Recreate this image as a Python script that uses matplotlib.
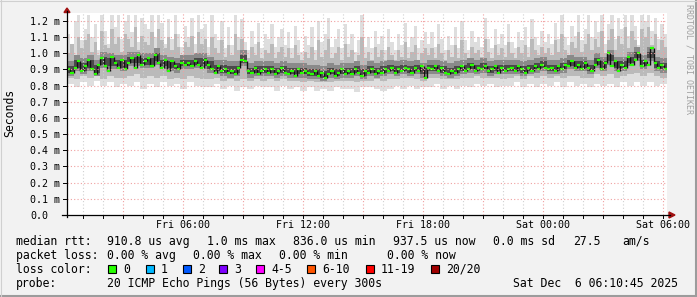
import numpy as np
import matplotlib.pyplot as plt
from matplotlib.patches import Rectangle, Polygon

# median rtt in ms, one value per 10 minutes, starting Fri 00:12
median = np.array([
    0.90, 0.88, 0.91, 0.95, 0.89, 0.92, 0.96, 0.90, 0.87, 0.93, 0.97, 0.92,
    0.89, 0.98, 0.94, 0.91, 0.96, 0.90, 0.94, 0.97, 0.91, 0.99, 0.93, 0.95,
    0.97, 0.92, 0.99, 0.94, 0.91, 0.96, 0.89, 0.95, 0.92, 0.90, 0.94, 0.93,
    0.94, 0.92, 0.95, 0.93, 0.91, 0.96, 0.93, 0.90, 0.88, 0.92, 0.89, 0.90,
    0.88, 0.89, 0.87, 0.91, 0.96, 0.95, 0.89, 0.88, 0.91, 0.87, 0.89, 0.90,
    0.88, 0.90, 0.87, 0.89, 0.91, 0.88, 0.87, 0.89, 0.86, 0.90, 0.88, 0.89,
    0.88, 0.87, 0.89, 0.86, 0.88, 0.85, 0.87, 0.89, 0.86, 0.88, 0.90, 0.87,
    0.89, 0.87, 0.90, 0.88, 0.86, 0.89, 0.88, 0.90, 0.87, 0.89, 0.88, 0.90,
    0.89, 0.91, 0.88, 0.90, 0.89, 0.91, 0.90, 0.88, 0.91, 0.89, 0.92, 0.85,
    0.91, 0.90, 0.92, 0.89, 0.91, 0.88, 0.87, 0.89, 0.88, 0.90, 0.92, 0.89,
    0.90, 0.93, 0.89, 0.91, 0.90, 0.92, 0.89, 0.90, 0.92, 0.88, 0.91, 0.89,
    0.90, 0.91, 0.89, 0.92, 0.90, 0.88, 0.91, 0.89, 0.92, 0.90, 0.93, 0.91,
    0.90, 0.91, 0.89, 0.92, 0.90, 0.93, 0.92, 0.95, 0.91, 0.93, 0.90, 0.94,
    0.91, 0.89, 0.93, 0.96, 0.90, 0.94, 1.00, 0.92, 0.95, 0.89, 0.93, 0.91,
    0.98, 0.93, 0.96, 1.00, 0.92, 0.95, 0.93, 1.03, 0.94, 0.91, 0.93, 0.90,
])

# slowest ping per 10 minutes (ms)
smoke_top = np.array([
    1.12, 1.05, 1.20, 1.24, 1.08, 1.15, 1.24, 1.10, 1.18, 1.02, 1.24, 1.14,
    1.06, 1.24, 1.16, 1.24, 1.09, 1.20, 1.24, 1.13, 1.24, 1.07, 1.22, 1.18,
    1.15, 1.24, 1.10, 1.24, 1.19, 1.06, 1.21, 1.09, 1.24, 1.12, 1.04, 1.17,
    1.10, 1.22, 1.06, 1.24, 1.15, 1.18, 1.04, 1.24, 1.12, 1.08, 1.20, 1.03,
    1.16, 1.05, 1.24, 1.10, 1.21, 1.07, 1.02, 1.14, 1.06, 1.19, 1.03, 1.12,
    1.09, 1.18, 1.04, 1.10, 1.15, 1.05, 1.13, 1.03, 1.17, 1.08, 1.01, 1.11,
    1.05, 1.16, 1.02, 1.20, 1.07, 1.12, 1.22, 1.04, 1.09, 1.15, 1.03, 1.18,
    1.06, 1.12, 1.01, 1.08, 1.24, 1.04, 1.10, 1.03, 1.14, 1.06, 1.11, 1.02,
    1.15, 1.07, 1.02, 1.12, 1.05, 1.19, 1.04, 1.10, 1.17, 1.03, 1.08, 1.13,
    1.06, 1.13, 1.04, 1.18, 1.09, 1.02, 1.11, 1.05, 1.16, 1.03, 1.20, 1.08,
    1.02, 1.14, 1.07, 1.10, 1.04, 1.22, 1.09, 1.03, 1.15, 1.06, 1.12, 1.05,
    1.18, 1.07, 1.03, 1.13, 1.08, 1.16, 1.04, 1.21, 1.10, 1.05, 1.14, 1.07,
    1.12, 1.06, 1.19, 1.09, 1.24, 1.10, 1.05, 1.17, 1.11, 1.24, 1.08, 1.15,
    1.24, 1.10, 1.20, 1.13, 1.24, 1.06, 1.18, 1.24, 1.09, 1.22, 1.15, 1.24,
    1.11, 1.24, 1.17, 1.05, 1.24, 1.20, 1.24, 1.14, 1.22, 1.09, 1.18, 1.12,
])

# 90th percentile ping per 10 minutes (ms)
smoke_hi = np.array([
    1.00, 1.06, 0.98, 1.10, 1.03, 1.08, 1.12, 1.01, 1.07, 0.99, 1.14, 1.05,
    1.03, 1.15, 1.06, 1.10, 1.01, 1.12, 1.09, 1.04, 1.16, 1.02, 1.11, 1.07,
    1.05, 1.13, 1.00, 1.15, 1.08, 1.03, 1.10, 1.02, 1.12, 1.04, 0.99, 1.07,
    1.04, 1.11, 0.99, 1.13, 1.06, 1.09, 0.99, 1.10, 1.03, 1.00, 1.08, 0.98,
    1.05, 0.99, 1.12, 1.02, 1.09, 1.00, 0.97, 1.04, 0.99, 1.07, 0.97, 1.02,
    1.00, 1.06, 0.97, 1.01, 1.04, 0.98, 1.03, 0.97, 1.05, 0.99, 0.96, 1.01,
    0.97, 1.04, 0.96, 1.08, 0.98, 1.02, 1.09, 0.97, 1.00, 1.04, 0.96, 1.06,
    0.98, 1.02, 0.95, 0.99, 1.10, 0.97, 1.01, 0.96, 1.04, 0.98, 1.02, 0.96,
    1.04, 0.99, 0.96, 1.02, 0.98, 1.07, 0.97, 1.01, 1.05, 0.96, 1.00, 1.03,
    0.99, 1.03, 0.97, 1.06, 1.00, 0.96, 1.02, 0.98, 1.05, 0.97, 1.08, 1.00,
    0.97, 1.04, 1.00, 1.02, 0.98, 1.09, 1.01, 0.97, 1.05, 0.99, 1.03, 0.98,
    1.07, 1.00, 0.97, 1.04, 1.00, 1.05, 0.98, 1.09, 1.02, 0.99, 1.04, 1.00,
    1.03, 0.99, 1.08, 1.01, 1.12, 1.02, 0.99, 1.07, 1.03, 1.13, 1.01, 1.06,
    1.12, 1.02, 1.09, 1.04, 1.14, 1.00, 1.08, 1.15, 1.02, 1.11, 1.06, 1.16,
    1.03, 1.14, 1.08, 0.99, 1.15, 1.10, 1.16, 1.05, 1.12, 1.02, 1.08, 1.04,
])

# smoke bands per 20 minutes (ms)
smoke_bot = np.array([
    0.81, 0.79, 0.82, 0.80, 0.83, 0.80, 0.82, 0.79, 0.81, 0.80, 0.82, 0.78,
    0.81, 0.79, 0.82, 0.80, 0.81, 0.78, 0.82, 0.80, 0.79, 0.79, 0.81, 0.78,
    0.80, 0.77, 0.79, 0.78, 0.80, 0.79, 0.79, 0.77, 0.80, 0.78, 0.79, 0.77,
    0.79, 0.77, 0.78, 0.77, 0.79, 0.78, 0.78, 0.76, 0.79, 0.79, 0.78, 0.77,
    0.78, 0.80, 0.78, 0.80, 0.78, 0.79, 0.79, 0.81, 0.78, 0.80, 0.78, 0.80,
    0.79, 0.81, 0.80, 0.81, 0.79, 0.80, 0.80, 0.82, 0.79, 0.81, 0.79, 0.81,
    0.80, 0.82, 0.79, 0.82, 0.80, 0.81, 0.79, 0.81, 0.80, 0.81, 0.79, 0.82,
    0.80, 0.82, 0.80, 0.82, 0.80, 0.81,
])
smoke_lo = np.array([
    0.85, 0.84, 0.86, 0.85, 0.86, 0.84, 0.86, 0.85, 0.85, 0.86, 0.87, 0.85,
    0.86, 0.85, 0.86, 0.84, 0.85, 0.84, 0.86, 0.85, 0.84, 0.84, 0.85, 0.83,
    0.84, 0.83, 0.84, 0.83, 0.84, 0.83, 0.84, 0.83, 0.84, 0.83, 0.83, 0.82,
    0.83, 0.82, 0.82, 0.82, 0.83, 0.83, 0.83, 0.82, 0.83, 0.83, 0.84, 0.83,
    0.84, 0.84, 0.85, 0.85, 0.84, 0.83, 0.85, 0.85, 0.84, 0.84, 0.84, 0.85,
    0.85, 0.86, 0.85, 0.85, 0.85, 0.84, 0.85, 0.86, 0.84, 0.86, 0.85, 0.86,
    0.85, 0.86, 0.85, 0.86, 0.86, 0.85, 0.85, 0.87, 0.86, 0.87, 0.85, 0.86,
    0.87, 0.88, 0.86, 0.88, 0.86, 0.85,
])
core_lo = np.array([
    0.88, 0.91, 0.89, 0.91, 0.88, 0.93, 0.92, 0.92, 0.91, 0.94, 0.94, 0.93,
    0.93, 0.95, 0.92, 0.91, 0.90, 0.92, 0.92, 0.93, 0.92, 0.90, 0.89, 0.88,
    0.87, 0.88, 0.94, 0.87, 0.88, 0.88, 0.88, 0.87, 0.88, 0.87, 0.87, 0.87,
    0.86, 0.86, 0.85, 0.87, 0.86, 0.87, 0.87, 0.88, 0.86, 0.88, 0.87, 0.88,
    0.89, 0.88, 0.89, 0.88, 0.89, 0.87, 0.89, 0.89, 0.88, 0.87, 0.88, 0.89,
    0.90, 0.89, 0.90, 0.88, 0.89, 0.89, 0.89, 0.89, 0.88, 0.89, 0.90, 0.91,
    0.89, 0.89, 0.90, 0.92, 0.91, 0.91, 0.89, 0.93, 0.91, 0.95, 0.91, 0.91,
    0.94, 0.97, 0.92, 0.97, 0.91, 0.90,
])
core_hi = np.array([
    0.92, 0.96, 0.94, 0.96, 0.93, 0.98, 0.97, 0.96, 0.96, 0.98, 0.98, 0.97,
    0.97, 1.00, 0.96, 0.95, 0.94, 0.96, 0.96, 0.97, 0.97, 0.95, 0.93, 0.93,
    0.92, 0.92, 0.99, 0.91, 0.92, 0.92, 0.92, 0.91, 0.92, 0.91, 0.91, 0.91,
    0.90, 0.90, 0.89, 0.91, 0.90, 0.91, 0.91, 0.92, 0.90, 0.92, 0.91, 0.92,
    0.93, 0.92, 0.93, 0.92, 0.93, 0.91, 0.93, 0.93, 0.92, 0.91, 0.92, 0.93,
    0.94, 0.93, 0.94, 0.92, 0.93, 0.93, 0.93, 0.93, 0.92, 0.93, 0.94, 0.95,
    0.93, 0.93, 0.94, 0.96, 0.95, 0.95, 0.93, 0.97, 0.95, 0.99, 0.95, 0.95,
    0.98, 1.01, 0.96, 1.01, 0.95, 0.94,
])

y_ticks = [0.0, 0.1, 0.2, 0.3, 0.4, 0.5, 0.6, 0.7, 0.8, 0.9, 1.0, 1.1, 1.2]
y_labels = ["0.0", "0.1 m", "0.2 m", "0.3 m", "0.4 m", "0.5 m", "0.6 m",
            "0.7 m", "0.8 m", "0.9 m", "1.0 m", "1.1 m", "1.2 m"]
x_ticks = [6, 12, 18, 24, 30]
x_labels = ["Fri 06:00", "Fri 12:00", "Fri 18:00", "Sat 00:00", "Sat 06:00"]

loss_labels = ["0", "1", "2", "3", "4-5", "6-10", "11-19", "20/20"]
loss_colors = ["#26ff00", "#00b8ff", "#0059ff", "#7e00ff", "#ff00ff",
               "#ff5500", "#ff0000", "#a00000"]

W, H = 697, 297
t0 = 0.2          # hours after Fri 00:00 at left edge
MONO = "DejaVu Sans Mono"

fig = plt.figure(figsize=(W / 100, H / 100), dpi=100, facecolor="#f2f2f2")
ax = fig.add_axes([67 / W, 82 / H, 600 / W, 202 / H])
ax.set_facecolor("white")
ax.set_xlim(t0, t0 + 30)
ax.set_ylim(0, 202 / 161.67)
for s in ax.spines.values():
    s.set_visible(False)

# smoke
x10 = t0 + np.arange(len(median)) / 6
x20 = t0 + np.arange(len(smoke_bot)) / 3
bot2 = np.repeat(smoke_bot, 2)
lo2 = np.repeat(smoke_lo, 2)
ax.bar(x10, smoke_top - bot2, bottom=bot2, width=1 / 6, align="edge",
       color="#dedede", linewidth=0, zorder=1)
ax.bar(x10, smoke_hi - lo2, bottom=lo2, width=1 / 6, align="edge",
       color="#bababa", linewidth=0, zorder=2)
ax.bar(x20, core_hi - core_lo + 0.05, bottom=core_lo - 0.02, width=1 / 3,
       align="edge", color="#8a8a8a", linewidth=0, zorder=3)
ax.bar(x20, core_hi - core_lo, bottom=core_lo, width=1 / 3, align="edge",
       color="#4a4a4a", linewidth=0, zorder=3)
# median, colored by loss (all 0 here)
ax.vlines(x10[1:], median[:-1], median[1:], color="#111111", lw=1, zorder=4)
ax.hlines(median, x10, x10 + 1 / 6, color=loss_colors[0], lw=1.6, zorder=5)

# grid
for h in range(1, 31):
    if h % 3 == 0:
        ax.axvline(h, color="#f0a0a0", lw=0.8, ls=(0, (1, 2)), zorder=6)
    else:
        ax.axvline(h, color="#d0d0d0", lw=0.8, ls=(0, (1, 2)), zorder=6)
for v in y_ticks[1:]:
    ax.axhline(v, color="#f0a0a0", lw=0.8, ls=(0, (1, 2)), zorder=6)

ax.set_xticks([])
ax.set_yticks([])

# axes lines and ticks (in pixels)
def fx(x):
    return x / W

def fy(y):
    return 1 - y / H

fig.add_artist(plt.Line2D([fx(62), fx(670)], [fy(215), fy(215)], color="black", lw=0.9))
fig.add_artist(plt.Line2D([fx(67), fx(67)], [fy(217), fy(11)], color="black", lw=0.9))
for h in range(1, 31):
    px = 67 + (h - t0) * 20
    fig.add_artist(plt.Line2D([fx(px), fx(px)], [fy(215), fy(217.5)], color="black", lw=0.7))
for v in y_ticks:
    py = 215 - v * 161.67
    fig.add_artist(plt.Line2D([fx(63), fx(67)], [fy(py), fy(py)], color="black", lw=0.7))
fig.add_artist(Polygon([[fx(64), fy(12.5)], [fx(70), fy(12.5)], [fx(67), fy(8)]],
                       closed=True, color="#a01010"))
fig.add_artist(Polygon([[fx(669), fy(212)], [fx(669), fy(218)], [fx(675), fy(215)]],
                       closed=True, color="#a01010"))

# tick labels
for v, lab in zip(y_ticks, y_labels):
    fig.text(fx(30), fy(215 - v * 161.67 + 4), lab, fontsize=7.2, family=MONO,
             ha="left", va="baseline")
for h, lab in zip(x_ticks, x_labels):
    fig.text(fx(67 + (h - t0) * 20), fy(228.3), lab, fontsize=7.2, family=MONO,
             ha="center", va="baseline")

fig.text(fx(10), fy(113), "Seconds", fontsize=8.3, family=MONO, rotation=90,
         ha="center", va="center")
fig.text(fx(688.5), fy(4), "RRDTOOL / TOBI OETIKER", fontsize=6, family=MONO,
         rotation=270, ha="center", va="top", color="#a0a0a0")

# legend
def leg(x, y, s):
    fig.text(fx(x), fy(y), s, fontsize=8.3, family=MONO, ha="left", va="baseline")

leg(16, 245, "median rtt:")
leg(107, 245, "910.8 us avg")
leg(207, 245, "1.0 ms max")
leg(293, 245, "836.0 us min")
leg(393, 245, "937.5 us now")
leg(493, 245, "0.0 ms sd")
leg(573, 245, "27.5")
leg(622, 245, "am/s")

leg(16, 259, "packet loss:")
leg(107, 259, "0.00 % avg")
leg(193, 259, "0.00 % max")
leg(279, 259, "0.00 % min")
leg(387, 259, "0.00 % now")

leg(16, 272.8, "loss color:")
box_x = [108, 146, 183, 219, 256, 307, 366, 431]
for bx, lab, col in zip(box_x, loss_labels, loss_colors):
    fig.add_artist(Rectangle((fx(bx), fy(273)), 8 / W, 8 / H, facecolor=col,
                             edgecolor="black", lw=0.8))
    leg(bx + 15, 272.8, lab)

leg(16, 286.6, "probe:")
leg(107, 286.6, "20 ICMP Echo Pings (56 Bytes) every 300s")
leg(513, 286.6, "Sat Dec  6 06:10:45 2025")

# frame shading
fig.add_artist(plt.Line2D([0, 1], [fy(296), fy(296)], color="#9c9c9c", lw=1.5))
fig.add_artist(plt.Line2D([fx(696), fx(696)], [0, 1], color="#9c9c9c", lw=1.5))
fig.add_artist(plt.Line2D([0, 1], [fy(0.5), fy(0.5)], color="#d0d0d0", lw=0.8))
fig.add_artist(plt.Line2D([fx(0.5), fx(0.5)], [0, 1], color="#d0d0d0", lw=0.8))

fig.savefig("out.png", dpi=100, facecolor=fig.get_facecolor())
